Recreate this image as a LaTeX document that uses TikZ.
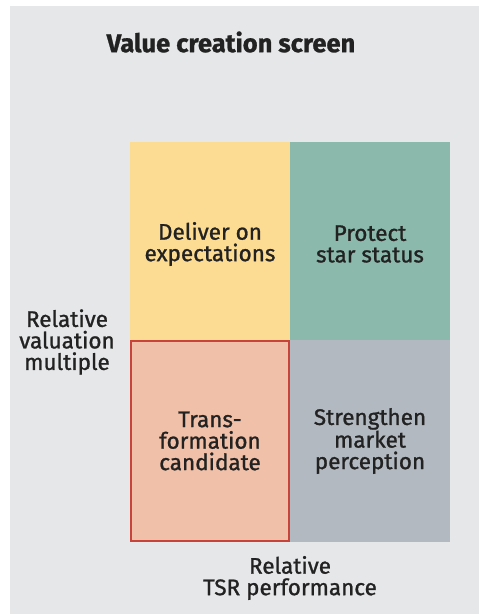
\documentclass[tikz,border=0pt]{standalone}
\usepackage{fontspec}
\setmainfont{Fira Sans}[FakeBold=1.1]
\usepackage{xcolor}
\usepackage{tikz}
\definecolor{paper}{RGB}{230,231,233}
\definecolor{sand}{RGB}{252,219,147}
\definecolor{sage}{RGB}{139,186,173}
\definecolor{salmon}{RGB}{240,192,168}
\definecolor{slate}{RGB}{179,185,193}
\definecolor{brick}{RGB}{200,67,58}
\definecolor{ink}{RGB}{34,34,34}
\usetikzlibrary{positioning}

\begin{document}
\begin{tikzpicture}[x=1pt, y=-1pt,
    cell/.style={minimum width=160pt, inner sep=0pt, outer sep=0pt},
    lbl/.style={text=ink, align=center, font=\fontsize{22.5}{21.5}\selectfont}]
    % page and grey card
    \useasboundingbox (0,0) rectangle (479,614);
    \fill[white] (0,0) rectangle (479,614);
    \fill[paper] (10,6) rectangle (479,614);
    \node[text=ink, font=\fontsize{25.5}{28}\selectfont\bfseries] (title) at (231,42) {Value creation screen};
    % four quadrants
    \node[cell, fill=sand, minimum height=198pt] (deliver) at (210,241) {};
    \node[cell, fill=sage, minimum height=198pt] (protect) at (370,241) {};
    \node[cell, fill=salmon, minimum height=202pt] (transform) at (210,441) {};
    \node[cell, fill=slate, minimum height=202pt] (strengthen) at (370,441) {};
    \draw[brick, line width=2.2pt] ([shift={(1.1,1.1)}]transform.north west) rectangle ([shift={(-1.1,-1.1)}]transform.south east);
    % quadrant texts
    \node[lbl] at ([yshift=-3pt]deliver.center) {Deliver on\\expectations};
    \node[lbl] at ([yshift=-3pt]protect.center) {Protect\\star status};
    \node[lbl] at (transform.center) {Trans-\\formation\\candidate};
    \node[lbl] at (strengthen.center) {Strengthen\\market\\perception};
    % axis labels
    \node[lbl] (yaxis) at (67,342) {Relative\\valuation\\multiple};
    \node[lbl] (xaxis) at (290,578) {Relative\\TSR performance};
\end{tikzpicture}
\end{document}
